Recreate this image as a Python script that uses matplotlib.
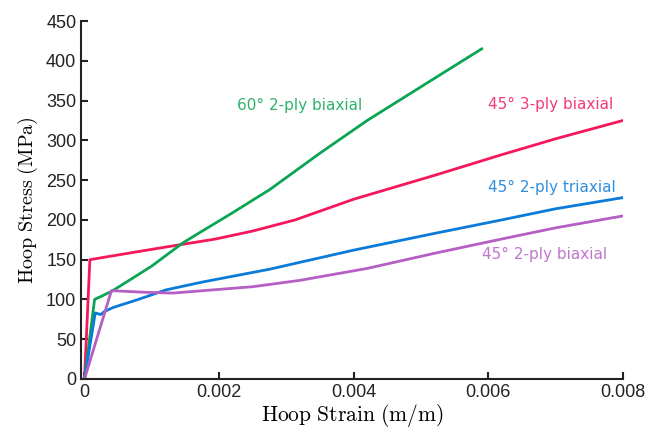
import matplotlib.pyplot as plt

plt.rcParams['mathtext.fontset'] = 'cm'
plt.rcParams['font.family'] = ['Liberation Sans', 'DejaVu Sans']

# strain (m/m) / stress (MPa)
red_x = [0, 0.00008, 0.001, 0.00195, 0.0025, 0.00313, 0.004, 0.0052, 0.0062, 0.007, 0.008]
red_y = [0, 150, 163, 176, 186, 200, 226, 256, 282, 302, 325]

green_x = [0, 0.00015, 0.0004, 0.00072, 0.001, 0.00146, 0.00175, 0.0022, 0.00275,
           0.0035, 0.0042, 0.0052, 0.0059]
green_y = [0, 100, 110, 127, 142, 171, 186, 209, 238, 284, 325, 378, 415]

blue_x = [0, 0.00016, 0.00024, 0.0003, 0.00043, 0.0008, 0.00121, 0.00176, 0.00275,
          0.004, 0.0052, 0.0062, 0.007, 0.008]
blue_y = [0, 83, 81, 85, 90, 100, 112, 122, 138, 162, 183, 200, 214, 228]

purple_x = [0, 0.0004, 0.0009, 0.00131, 0.00176, 0.0025, 0.0032, 0.0042, 0.0052,
            0.0062, 0.007, 0.008]
purple_y = [0, 111, 109, 108, 111, 116, 124, 139, 158, 176, 190, 205]

series = [
    (red_x, red_y, '#f5175a', '45° 3-ply biaxial', 0.00692, 345),
    (green_x, green_y, '#0aa552', '60° 2-ply biaxial', 0.00319, 344),
    (blue_x, blue_y, '#0a7bd8', '45° 2-ply triaxial', 0.00694, 241),
    (purple_x, purple_y, '#b55ec4', '45° 2-ply biaxial', 0.00683, 157),
]

fig = plt.figure(figsize=(6.49, 4.29), dpi=100)
ax = fig.add_axes([0.125, 0.1166, 0.835, 0.8344])

for xs, ys, col, name, lx, ly in series:
    ax.plot(xs, ys, color=col, lw=2)
    ax.text(lx, ly, name, color=col, fontsize=11, ha='center', va='center',
            alpha=0.85, family='DejaVu Sans')

ax.set_xlim(-0.00005, 0.008)
ax.set_ylim(0, 450)
ax.set_xticks([0, 0.002, 0.004, 0.006, 0.008])
ax.set_xticklabels(['0', '0.002', '0.004', '0.006', '0.008'])
ax.set_yticks(range(0, 451, 50))

for s in ['top', 'right']:
    ax.spines[s].set_visible(False)
for s in ['left', 'bottom']:
    ax.spines[s].set_linewidth(1.5)
    ax.spines[s].set_color('#222222')
ax.tick_params(direction='in', length=5, width=1.5, labelsize=13,
               colors='#222222')

ax.set_xlabel(r'$\mathrm{Hoop\ Strain\ (m/m)}$', fontsize=15.5, labelpad=1)
ax.set_ylabel(r'$\mathrm{Hoop\ Stress\ (MPa)}$', fontsize=14.5, labelpad=4)

fig.savefig('out.png', dpi=100)
